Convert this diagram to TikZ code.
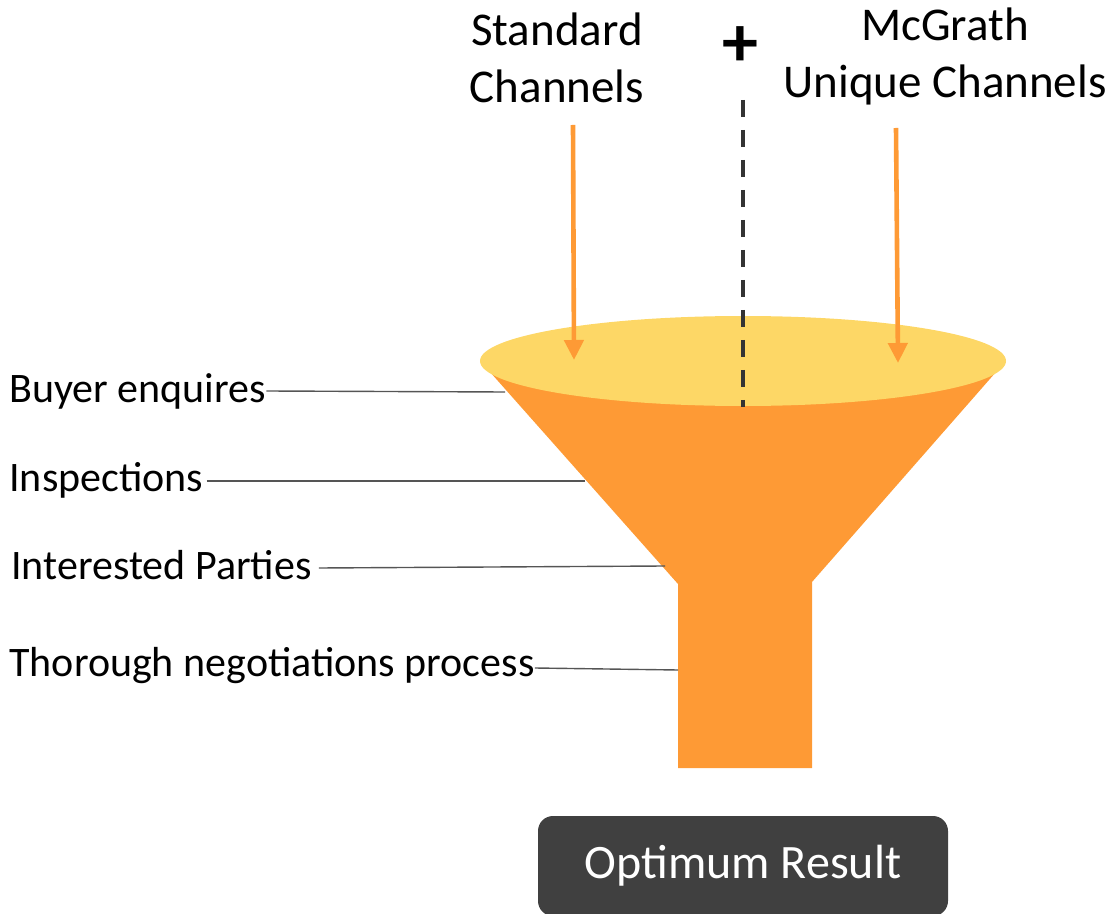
\documentclass[tikz,border=0pt]{standalone}
\usepackage{fontspec}
\setmainfont{Carlito}
\usetikzlibrary{arrows.meta}
\definecolor{funnelorange}{HTML}{FE9A35}
\definecolor{funnelyellow}{HTML}{FDD766}
\definecolor{arroworange}{HTML}{FE9A35}
\definecolor{boxgray}{HTML}{404040}
\definecolor{dashgray}{HTML}{333333}
\definecolor{leadergray}{HTML}{555555}
\tikzset{
  toplabel/.style={align=center, inner sep=0pt, font=\fontsize{23.5}{28.5}\selectfont},
  sidelabel/.style={anchor=base west, inner sep=0pt, font=\fontsize{21}{24}\selectfont},
  leader/.style={draw=leadergray, line width=0.7pt},
  feed/.style={draw=arroworange, line width=2.3pt, -{Triangle[width=9.5pt,length=10pt]}},
  resultbox/.style={fill=boxgray, rounded corners=7.5pt, text=white, minimum width=205pt, minimum height=50pt, inner sep=0pt, font=\fontsize{24}{28}\selectfont}
}
\begin{document}
\begin{tikzpicture}[x=0.5pt,y=-0.5pt]
\useasboundingbox (0,0) rectangle (1114,914);
% funnel body
\fill[funnelorange] (490,372) -- (678,584) -- (678,768) -- (812,768) -- (812,582) -- (996,372) -- cycle;
% funnel mouth
\fill[funnelyellow] (743,361) ellipse [x radius=131.5pt, y radius=22.5pt];
% dashed divider
\coordinate (dtop) at (743,100);
\coordinate (dbot) at (743,407);
\draw[dashgray, line width=1.6pt, dash pattern=on 8.5pt off 6.5pt] (dtop) -- (dbot);
% plus sign
\node[inner sep=0pt, font=\fontsize{36}{36}\selectfont\bfseries] (plus) at (740,47) {+};
% top labels
\node[toplabel] (std) at (557,58) {Standard\\Channels};
\node[toplabel] (mcg) at (945,56) {McGrath\\Unique Channels};
% feed arrows
\coordinate (a1s) at (573,125);
\coordinate (a1e) at (574,360);
\coordinate (a2s) at (896,128);
\coordinate (a2e) at (898,363);
\draw[feed] (a1s) -- (a1e);
\draw[feed] (a2s) -- (a2e);
% side labels
\node[sidelabel] (buyer) at (9,403) {Buyer enquires};
\node[sidelabel] (insp) at (9,492) {Inspections};
\node[sidelabel] (inter) at (11,580) {Interested Parties};
\node[sidelabel] (thor) at (9,676) {Thorough negotiations process};
\coordinate (f1) at (505,392);
\coordinate (f2) at (585,481);
\coordinate (f3) at (665,566);
\coordinate (f4) at (678,670);
\draw[leader] (buyer.east |- 0,391) -- (f1);
\draw[leader] (insp.east |- 0,481) ++(3,0) -- (f2);
\draw[leader] (inter.east |- 0,568) ++(7,0) -- (f3);
\draw[leader] (thor.east |- 0,668) -- (f4);
% result
\node[resultbox] (res) at (743,866) {Optimum Result};
\end{tikzpicture}
\end{document}
